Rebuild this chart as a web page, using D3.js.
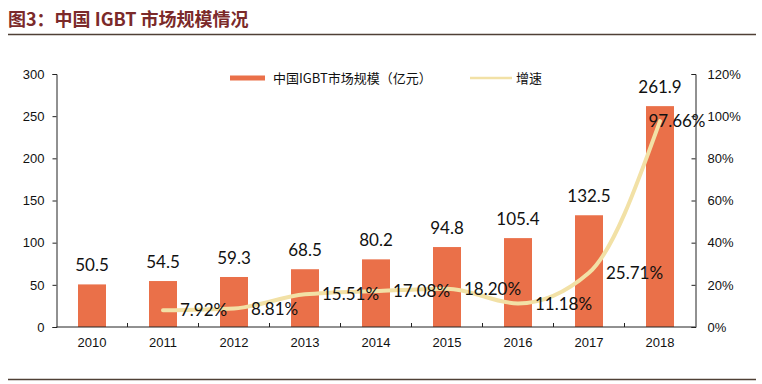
<!DOCTYPE html>
<html>
<head>
<meta charset="utf-8">
<script src="https://cdn.jsdelivr.net/npm/d3@7"></script>
<style>
  body { margin: 0; background: #fff; }
  svg { display: block; }
</style>
</head>
<body>
<svg id="chart" width="762" height="384"></svg>
<script>
// data
const years = ['2010', '2011', '2012', '2013', '2014', '2015', '2016', '2017', '2018']
const marketSize = [50.5, 54.5, 59.3, 68.5, 80.2, 94.8, 105.4, 132.5, 261.9]
const growth = [null, 7.92, 8.81, 15.51, 17.08, 18.2, 11.18, 25.71, 97.66]
const leftTicks = [0, 50, 100, 150, 200, 250, 300]
const rightTicks = [0, 20, 40, 60, 80, 100, 120]

const barName = '中国IGBT市场规模（亿元）'
const lineName = '增速'
const title = '图3：中国 IGBT 市场规模情况'

const svg = d3.select('#chart')

const plotL = 56.5, plotR = 695.5, plotT = 74, plotB = 327
const barColor = '#EA7049'
const lineColor = '#F2E1A6'
const numFont = 'Lato, "Open Sans", sans-serif'
const tickFont = '"Liberation Sans", Arial, sans-serif'

// title + rules
svg.append('text')
  .attr('x', 8)
  .attr('y', 26)
  .attr('font-family', '"Noto Sans CJK SC", sans-serif')
  .attr('font-weight', 700)
  .attr('font-size', 18)
  .attr('fill', '#7B2A2A')
  .text(title)

svg.append('line')
  .attr('x1', 8).attr('x2', 756)
  .attr('y1', 34.5).attr('y2', 34.5)
  .attr('stroke', '#4f4036')
  .attr('stroke-width', 1.5)

svg.append('line')
  .attr('x1', 8).attr('x2', 756)
  .attr('y1', 379.5).attr('y2', 379.5)
  .attr('stroke', '#4f4036')
  .attr('stroke-width', 1.5)

// scales
const x = d3.scaleBand().domain(years).range([plotL, plotR])
const yL = d3.scaleLinear().domain([0, 300]).range([plotB, plotT])
const yR = d3.scaleLinear().domain([0, 120]).range([plotB, plotT])
const barW = 28

// bars
svg.selectAll('.bar')
  .data(marketSize)
  .enter()
  .append('rect')
  .attr('class', 'bar')
  .attr('x', (d, i) => x(years[i]) + x.bandwidth() / 2 - barW / 2)
  .attr('y', (d) => yL(d))
  .attr('width', barW)
  .attr('height', (d) => plotB - yL(d))
  .attr('fill', barColor)

// bar labels
svg.selectAll('.barLabel')
  .data(marketSize)
  .enter()
  .append('text')
  .attr('class', 'barLabel')
  .attr('x', (d, i) => x(years[i]) + x.bandwidth() / 2)
  .attr('y', (d) => yL(d) - 13)
  .attr('text-anchor', 'middle')
  .attr('font-family', numFont)
  .attr('font-size', 17)
  .attr('fill', '#111')
  .text((d) => d.toFixed(1))

// axes
const axL = svg.append('g')
  .attr('transform', `translate(${plotL},0)`)
  .call(d3.axisLeft(yL).tickValues(leftTicks).tickSize(4).tickPadding(8))
const axR = svg.append('g')
  .attr('transform', `translate(${plotR},0)`)
  .call(d3.axisRight(yR).tickValues(rightTicks).tickSize(-4).tickPadding(12)
    .tickFormat((d) => d + '%'))
const axX = svg.append('g')
  .attr('transform', `translate(0,${plotB})`)
  .call(d3.axisBottom(x).tickSize(0).tickPadding(11))

;[axL, axR, axX].forEach((g) => {
  g.select('.domain').attr('stroke', '#222')
  g.selectAll('.tick line').attr('stroke', '#222')
  g.selectAll('text')
    .attr('font-family', tickFont)
    .attr('font-size', 13)
    .attr('fill', '#111')
})
axX.select('.domain').attr('d', `M${plotL},0H${plotR}`)

// category separators on x axis (pointing up)
svg.selectAll('.sep')
  .data(years.slice(1))
  .enter()
  .append('line')
  .attr('class', 'sep')
  .attr('x1', (d) => x(d))
  .attr('x2', (d) => x(d))
  .attr('y1', plotB)
  .attr('y2', plotB - 4)
  .attr('stroke', '#222')

// growth line
const pts = growth.map((g, i) => ({ year: years[i], g: g })).filter((d) => d.g !== null)
const cx = (d) => x(d.year) + x.bandwidth() / 2

svg.append('path')
  .datum(pts)
  .attr('d', d3.line()
    .x(cx)
    .y((d) => yR(d.g))
    .curve(d3.curveMonotoneX))
  .attr('fill', 'none')
  .attr('stroke', lineColor)
  .attr('stroke-width', 4)
  .attr('stroke-linecap', 'round')

// growth labels
svg.selectAll('.gLabel')
  .data(pts)
  .enter()
  .append('text')
  .attr('class', 'gLabel')
  .attr('y', (d) => yR(d.g))
  .attr('dy', '0.36em')
  .attr('font-family', numFont)
  .attr('font-size', 17)
  .attr('fill', '#111')
  .text((d) => d.g.toFixed(2) + '%')
  .attr('x', function (d) {
    const w = this.getComputedTextLength()
    return Math.min(cx(d) + 17, plotR + 10 - w)
  })

// legend
const lg = svg.append('g').attr('transform', 'translate(230,78)')
lg.append('rect')
  .attr('x', 0).attr('y', -2.5)
  .attr('width', 35).attr('height', 5)
  .attr('fill', barColor)
lg.append('text')
  .attr('x', 43).attr('y', 0).attr('dy', '0.35em')
  .attr('font-family', '"Noto Sans CJK SC", sans-serif')
  .attr('font-size', 13)
  .attr('fill', '#111')
  .text(barName)
lg.append('line')
  .attr('x1', 240).attr('x2', 282)
  .attr('y1', 0).attr('y2', 0)
  .attr('stroke', lineColor)
  .attr('stroke-width', 2.5)
lg.append('text')
  .attr('x', 286).attr('y', 0).attr('dy', '0.35em')
  .attr('font-family', '"Noto Sans CJK SC", sans-serif')
  .attr('font-size', 13)
  .attr('fill', '#111')
  .text(lineName)
</script>
</body>
</html>
